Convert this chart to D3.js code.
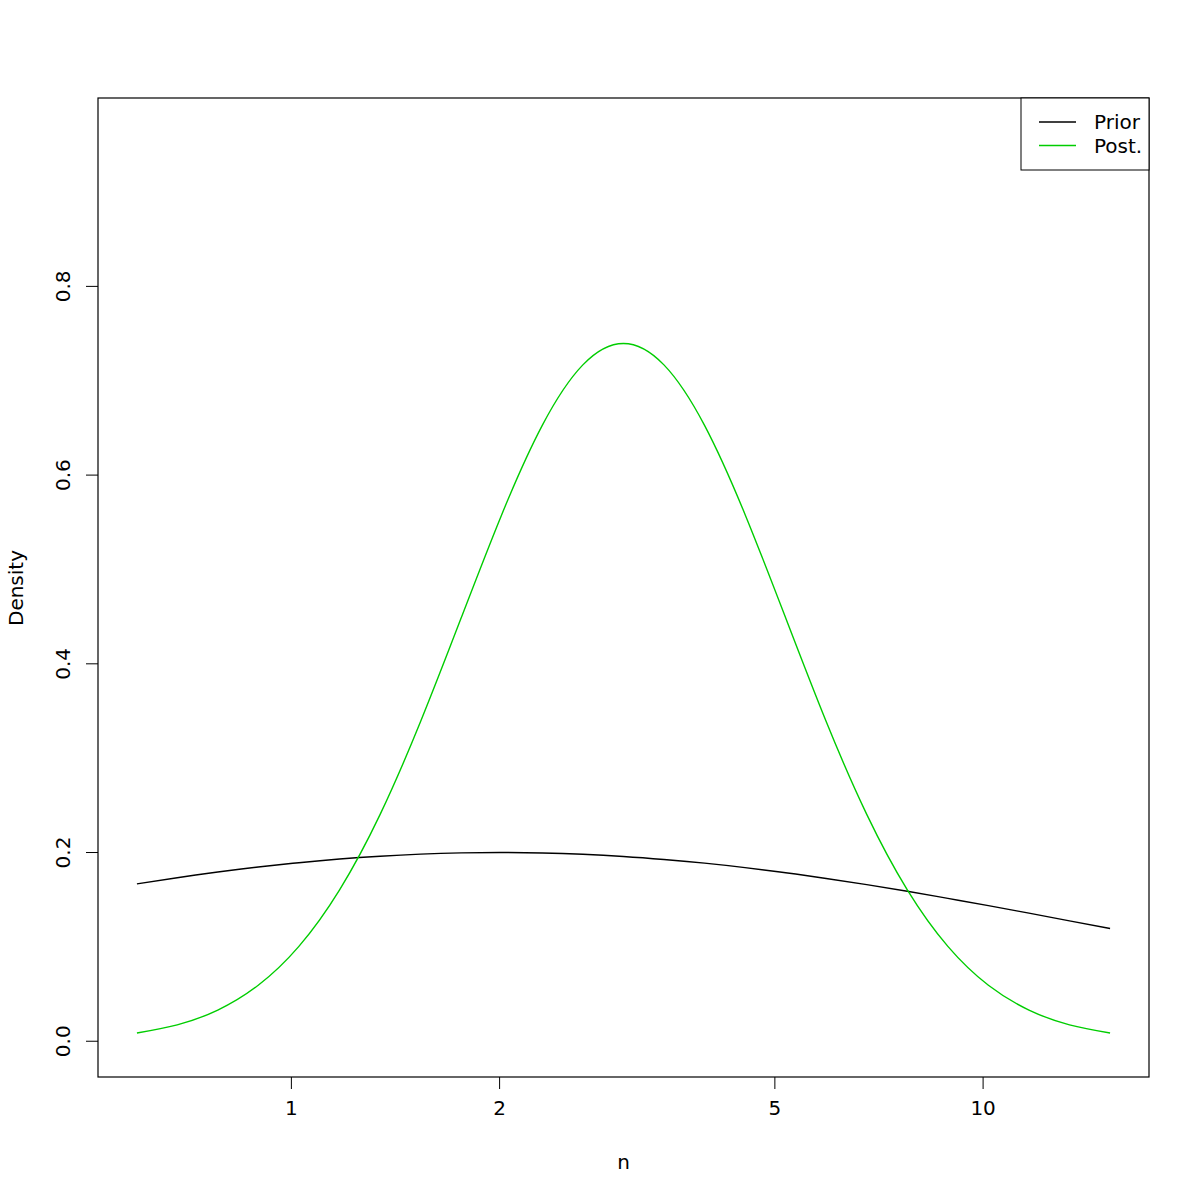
<!DOCTYPE html>
<html><head><meta charset="utf-8">
<script src="https://cdn.jsdelivr.net/npm/d3@7"></script>
<style>body{margin:0;background:#fff}svg{display:block}text{font-family:"DejaVu Sans",sans-serif}</style>
</head><body><svg id="c" width="1200" height="1200"></svg>
<script>
// n values (log-scaled x axis)
const nValues = [0.599,0.685,0.784,0.897,1.027,1.176,1.346,1.540,1.763,2.018,2.309,2.643,3.025,3.462,3.963,4.535,5.191,5.941,6.800,7.783,8.908,10.195,11.669,13.355,15.286];
const priorDensity = [0.1663,0.1728,0.1788,0.1841,0.1887,0.1926,0.1956,0.1978,0.1991,0.1995,0.1990,0.1976,0.1953,0.1921,0.1882,0.1835,0.1781,0.1720,0.1654,0.1584,0.1509,0.1432,0.1352,0.1271,0.1189];
const postDensity = [0.0082,0.0168,0.0325,0.0588,0.1000,0.1599,0.2399,0.3383,0.4482,0.5578,0.6522,0.7163,0.7390,0.7163,0.6522,0.5578,0.4482,0.3383,0.2399,0.1599,0.1000,0.0588,0.0325,0.0168,0.0082];
const xTicks = [1,2,5,10];
const yTicks = [0,0.2,0.4,0.6,0.8];
const seriesNames = ["Prior","Post."];
const seriesColors = ["#000000","#00CD00"];

const L=98,R=1149,T=98,B=1077;
const FS=20;
const svg=d3.select("#c");
const xr=[nValues[0],nValues[nValues.length-1]];
const lx=[Math.log10(xr[0]),Math.log10(xr[1])];
const ex=(lx[1]-lx[0])*0.04;
const x=d3.scaleLog().domain([Math.pow(10,lx[0]-ex),Math.pow(10,lx[1]+ex)]).range([L,R]);
const yMax=0.9607, ey=yMax*0.04;
const y=d3.scaleLinear().domain([-ey,yMax+ey]).range([B,T]);

const line=d3.line().x(d=>x(d[0])).y(d=>y(d[1])).curve(d3.curveNatural);
const series=[priorDensity,postDensity];
series.forEach((s,i)=>{
  svg.append("path").attr("d",line(nValues.map((n,j)=>[n,s[j]])))
    .attr("fill","none").attr("stroke",seriesColors[i]).attr("stroke-width",1.4);
});

// axes
const xa=svg.append("g").attr("transform",`translate(0,${B})`)
  .call(d3.axisBottom(x).tickValues(xTicks).tickFormat(d3.format("d")).tickSize(12).tickPadding(12));
xa.select(".domain").remove();
xa.selectAll("text").attr("font-size",FS).attr("font-family","DejaVu Sans");
const ya=svg.append("g").attr("transform",`translate(${L},0)`)
  .call(d3.axisLeft(y).tickValues(yTicks).tickFormat(d3.format(".1f")).tickSize(12));
ya.select(".domain").remove();
ya.selectAll(".tick text").attr("font-size",FS).attr("font-family","DejaVu Sans")
  .attr("text-anchor","middle").attr("dy",null).attr("x",0).attr("y",0)
  .attr("transform","translate(-28,0) rotate(-90)");
svg.append("rect").attr("x",L).attr("y",T).attr("width",R-L).attr("height",B-T)
  .attr("fill","none").attr("stroke","#000").attr("stroke-width",1.2);

svg.append("text").attr("x",(L+R)/2).attr("y",1169).attr("text-anchor","middle").attr("font-size",FS).text("n");
svg.append("text").attr("transform","translate(23,588) rotate(-90)").attr("text-anchor","middle").attr("font-size",FS).text("Density");

// legend
const lg=svg.append("g");
lg.append("rect").attr("x",1021).attr("y",T).attr("width",R-1021).attr("height",72).attr("fill","#fff").attr("stroke","#000").attr("stroke-width",1);
seriesNames.forEach((nm,i)=>{
  const yy=122+i*23.5;
  lg.append("line").attr("x1",1039).attr("x2",1076).attr("y1",yy).attr("y2",yy).attr("stroke",seriesColors[i]).attr("stroke-width",1.4);
  lg.append("text").attr("x",1094).attr("y",yy+7).attr("font-size",FS).text(nm);
});
</script></body></html>
